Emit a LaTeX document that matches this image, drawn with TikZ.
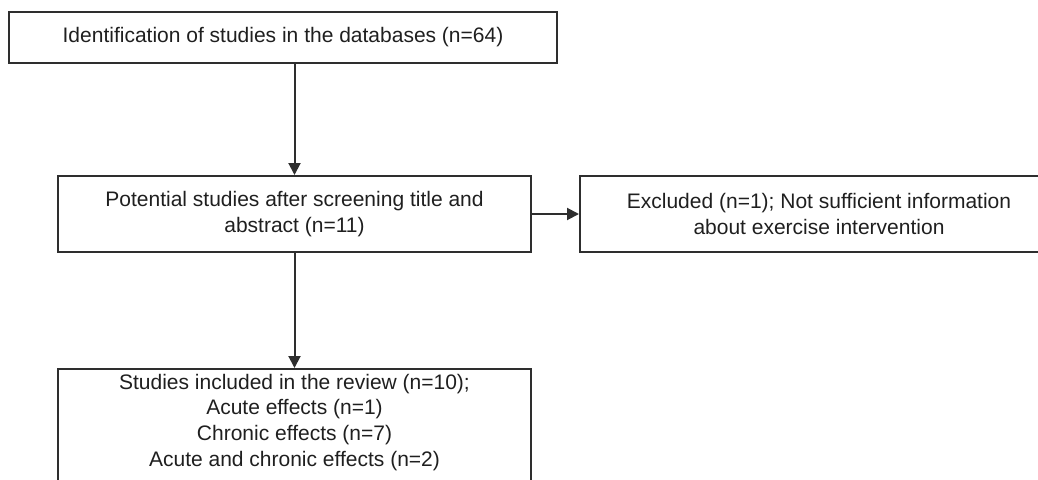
\documentclass[tikz,border=0pt]{standalone}
\usepackage{fontspec}
\setmainfont{Liberation Sans}
\usetikzlibrary{arrows.meta,positioning}

\begin{document}
\begin{tikzpicture}[x=1pt,y=-1pt,>={Triangle[length=12pt,width=12pt]},
    box/.style={draw=black!82,line width=2pt,align=center,text=black!88,
      font=\fontsize{21}{25.7}\selectfont,inner sep=2pt},
    link/.style={->,draw=black!82,line width=2pt}]

                \useasboundingbox (0,0) rectangle (1038,479);

                \node[box,minimum width=548pt,minimum height=51pt] (ident) at (283,37.5) {Identification of studies in the databases (n=64)};

                \node[box,minimum width=473pt,minimum height=76pt] (screen) at (294.5,214) {Potential studies after screening title and\\abstract (n=11)};

                \node[box,minimum width=478pt,minimum height=76pt] (excl) [right=47pt of screen] {Excluded (n=1); Not sufficient information\\about exercise intervention};

                \node[box,minimum width=473pt,inner ysep=5pt,text depth=45pt] (incl) [below=115pt of screen] {Studies included in the review (n=10);\\Acute effects (n=1)\\Chronic effects (n=7)\\Acute and chronic effects (n=2)};

                

                \draw[link] (screen.north |- ident.south) -- (screen);

                \draw[link] (screen) -- (excl);

                \draw[link] (screen) -- (incl);

            \end{tikzpicture}
\end{document}
